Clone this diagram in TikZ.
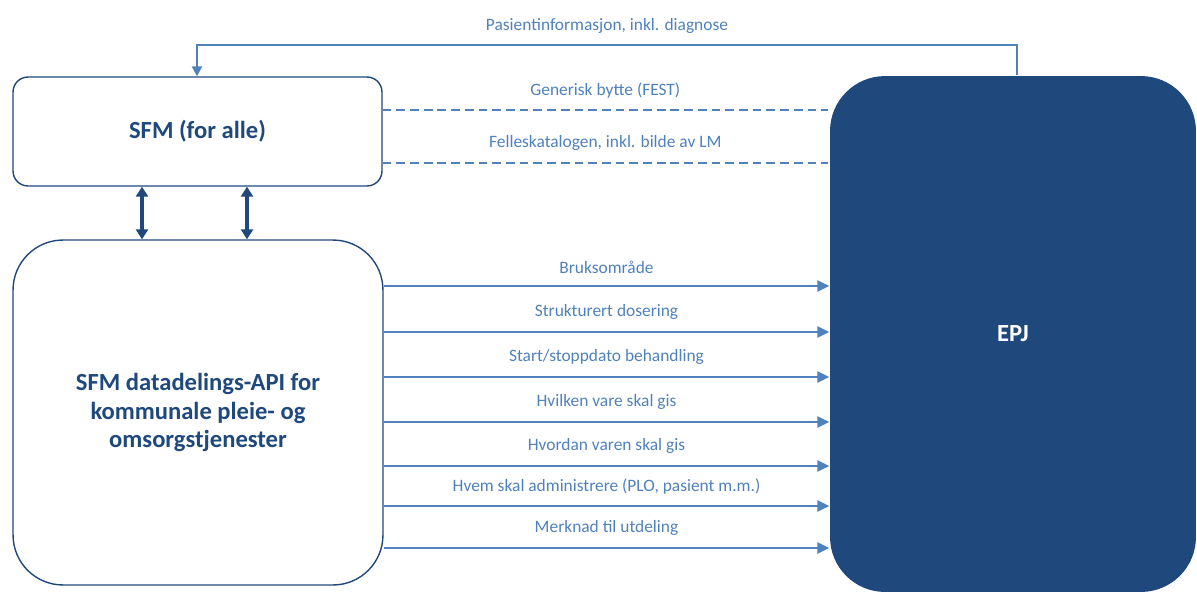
\documentclass[tikz,border=0pt]{standalone}
\usepackage{fontspec}
\setmainfont{Carlito}
\usetikzlibrary{arrows.meta}
\definecolor{linjeblaa}{HTML}{4F81BD}
\definecolor{moerkblaa}{HTML}{1F497D}

\begin{document}
\begin{tikzpicture}[x=0.02cm,y=-0.02cm]
  \tikzstyle{boks}=[draw=moerkblaa,line width=0.8pt,fill=white,text=moerkblaa,
                    font=\fontsize{14}{16.2}\selectfont\bfseries,align=center]
  \tikzstyle{flyt}=[draw=linjeblaa,line width=1.6pt,-{Triangle[length=2.4mm,width=2.2mm]}]
  \tikzstyle{stiplet}=[draw=linjeblaa,line width=1.6pt,dash pattern=on 5pt off 2.8pt]
  \tikzstyle{etikett}=[text=linjeblaa,font=\fontsize{9.9}{11}\selectfont,above=2.8pt,midway]
  \tikzstyle{begge}=[draw=moerkblaa,line width=1.8pt,{Triangle[length=2mm,width=2.4mm]}-{Triangle[length=2mm,width=2.4mm]}]
\useasboundingbox (0,0) rectangle (1197,593);
\node[boks,rounded corners=0.3cm,minimum width=7.38cm,minimum height=2.18cm] (sfm) at (197.5,131.5) {SFM (for alle)};
\node[boks,rounded corners=1cm,minimum width=7.4cm,minimum height=6.9cm] (api) at (198,412.5)
     {SFM datadelings-API for\\kommunale pleie- og\\omsorgstjenester};
\node[boks,draw=none,fill=moerkblaa,text=white,rounded corners=1.1cm,minimum width=7.32cm,minimum height=10.32cm] (epj) at (1013,334) {EPJ};
\draw[begge] (sfm.south -| 142,0) -- (api.north -| 142,0);
\draw[begge] (sfm.south -| 247,0) -- (api.north -| 247,0);
\draw[draw=linjeblaa,line width=1.2pt,-{Triangle[length=2mm,width=2mm]}]
     (epj.north -| 1017,0) -- (1017,45) -- node[etikett] {Pasientinformasjon, inkl. diagnose} (197,45) -- (sfm.north -| 197,0);
\draw[stiplet] (sfm.east |- 0,110) -- node[etikett] {Generisk bytte (FEST)} (828,110);
\draw[stiplet] (sfm.east |- 0,163) -- node[etikett] {Felleskatalogen, inkl. bilde av LM} (828,163);
\foreach \y/\tekst in {286/{Bruksområde},
                       332/{Strukturert dosering},
                       377/{Start/stoppdato behandling},
                       422/{Hvilken vare skal gis},
                       466/{Hvordan varen skal gis},
                       506/{Hvem skal administrere (PLO, pasient m.m.)},
                       548/{Merknad til utdeling}}
  \draw[flyt] (api.east |- 0,\y) -- node[etikett] {\tekst} (epj.west |- 0,\y);
\end{tikzpicture}
\end{document}
